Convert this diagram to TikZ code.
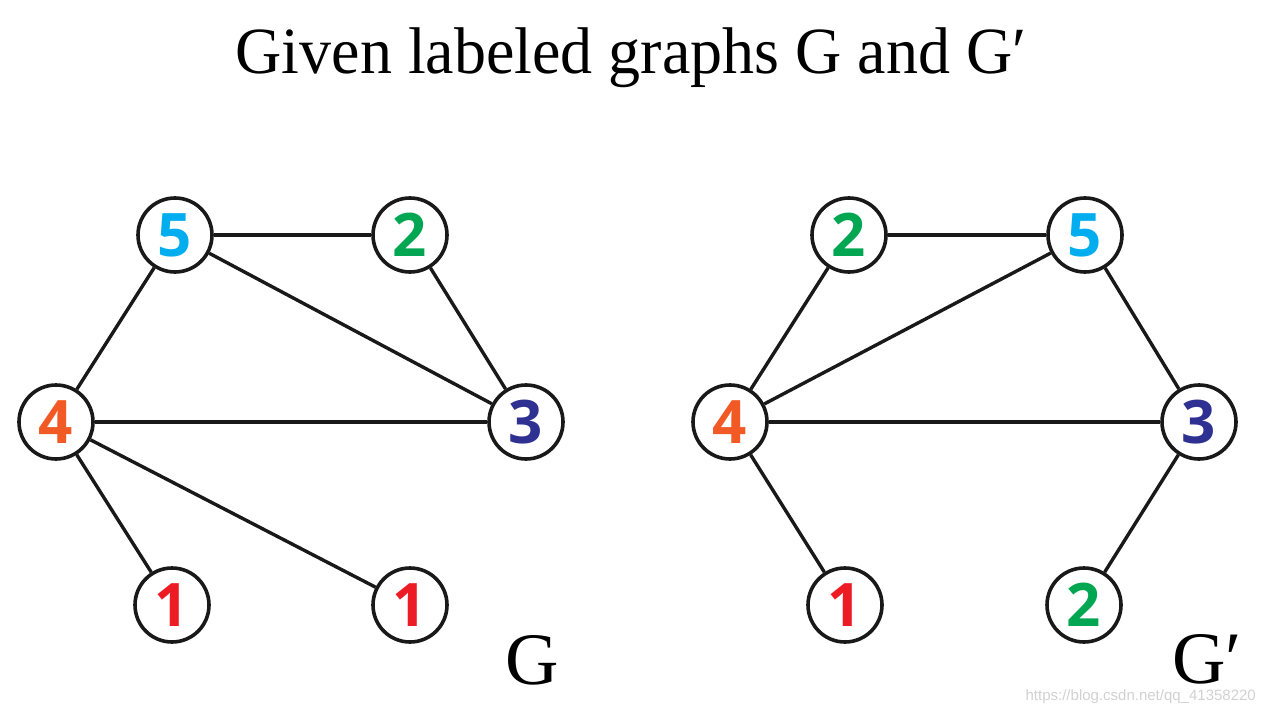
\documentclass[tikz,border=0pt]{standalone}
\usepackage{fontspec}
\setmainfont{Liberation Serif}
\newfontfamily\digitfont{Open Sans}
\newfontfamily\markfont{Liberation Sans}
\usepackage{tikz}
\definecolor{labCyan}{RGB}{0,174,239}
\definecolor{labGreen}{RGB}{0,166,81}
\definecolor{labOrange}{RGB}{241,90,36}
\definecolor{labBlue}{RGB}{46,49,146}
\definecolor{labRed}{RGB}{237,28,36}
\tikzset{Vertex/.style={%
    shape=circle,%
    draw=black!90,%
    fill=white,%
    minimum size=74pt,%
    line width=3.6pt,%
    inner sep=0pt,%
    font=\digitfont\bfseries\fontsize{60}{60}\selectfont,%
}}
\tikzset{NormalEdge/.style={%
    -,%
    draw=black!90,%
    line width=3.4pt,%
}}
\tikzset{GraphName/.style={%
    font=\fontsize{74}{74}\selectfont,%
    inner sep=0pt,%
    anchor=base west,%
}}

\begin{document}
\begin{tikzpicture}[x=1pt,y=-1pt]
    \useasboundingbox (0,0) rectangle (1265,711);
    \node[font=\fontsize{66}{66}\selectfont, xscale=0.97, inner sep=0pt, anchor=base] (title) at (631,74) {Given labeled graphs G and G′};

    % graph G
    \node[Vertex, text=labCyan] (g5) at (175,235) {5};
    \node[Vertex, text=labGreen] (g2) at (410,235) {2};
    \node[Vertex, text=labOrange] (g4) at (56,422) {4};
    \node[Vertex, text=labBlue] (g3) at (526,422) {3};
    \node[Vertex, text=labRed] (g1a) at (172,605) {1};
    \node[Vertex, text=labRed] (g1b) at (410,605) {1};
    \node[GraphName] (gname) at (505,684) {G};

    \draw[NormalEdge] (g5) -- (g2);
    \draw[NormalEdge] (g5) -- (g4);
    \draw[NormalEdge] (g5) -- (g3);
    \draw[NormalEdge] (g2) -- (g3);
    \draw[NormalEdge] (g4) -- (g3);
    \draw[NormalEdge] (g4) -- (g1a);
    \draw[NormalEdge] (g4) -- (g1b);

    % graph G'
    \node[Vertex, text=labGreen] (h2a) at (849,235) {2};
    \node[Vertex, text=labCyan] (h5) at (1085,235) {5};
    \node[Vertex, text=labOrange] (h4) at (730,422) {4};
    \node[Vertex, text=labBlue] (h3) at (1199,422) {3};
    \node[Vertex, text=labRed] (h1) at (845,605) {1};
    \node[Vertex, text=labGreen] (h2b) at (1084,605) {2};
    \node[GraphName] (hname) at (1172,683) {G′};

    \draw[NormalEdge] (h2a) -- (h5);
    \draw[NormalEdge] (h2a) -- (h4);
    \draw[NormalEdge] (h5) -- (h4);
    \draw[NormalEdge] (h5) -- (h3);
    \draw[NormalEdge] (h4) -- (h3);
    \draw[NormalEdge] (h4) -- (h1);
    \draw[NormalEdge] (h3) -- (h2b);

    \node[font=\markfont\fontsize{15}{15}\selectfont, text=black!18, anchor=base east, inner sep=0pt] (mark) at (1256,700) {https://blog.csdn.net/qq\_41358220};
\end{tikzpicture}
\end{document}
